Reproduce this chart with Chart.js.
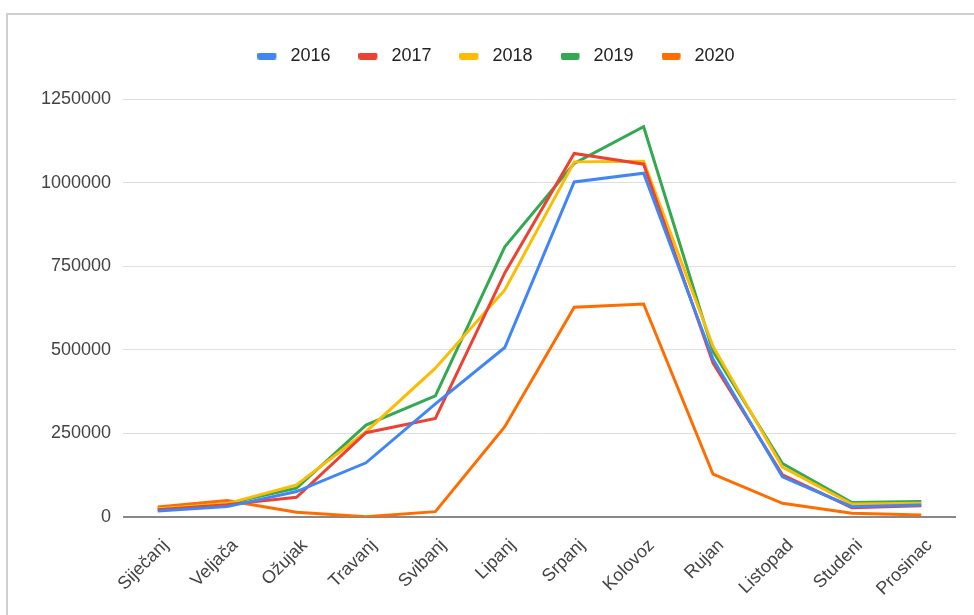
<!DOCTYPE html>
<html>
<head>
<meta charset="utf-8">
<script src="https://cdn.jsdelivr.net/npm/chart.js@4.4.1/dist/chart.umd.min.js"></script>
<style>
  html, body { margin: 0; padding: 0; background: #fff; }
  #wrap { position: relative; width: 974px; height: 615px; overflow: hidden; }
  #frame { position: absolute; left: 6px; top: 13px; width: 974px; height: 700px;
           border-top: 2px solid #cfcfcf; border-left: 2px solid #cfcfcf; box-sizing: border-box; pointer-events: none; }
  canvas { position: absolute; left: 0; top: 0; }
</style>
</head>
<body>
<div id="wrap">
  <canvas id="c" width="974" height="615"></canvas>
  <div id="frame"></div>
</div>
<script>
const months = ["Siječanj", "Veljača", "Ožujak", "Travanj", "Svibanj", "Lipanj", "Srpanj", "Kolovoz", "Rujan", "Listopad", "Studeni", "Prosinac"];
const yearLabels = ["2016", "2017", "2018", "2019", "2020"];
const v2016 = [18000, 31000, 76000, 162000, 338000, 507000, 1002000, 1028000, 472000, 120000, 31000, 36000];
const v2017 = [22000, 37000, 59000, 252000, 295000, 730000, 1087000, 1055000, 460000, 126000, 28000, 34000];
const v2018 = [25000, 40000, 96000, 255000, 445000, 679000, 1062000, 1064000, 510000, 149000, 39000, 41000];
const v2019 = [25000, 40000, 86000, 275000, 362000, 808000, 1057000, 1167000, 495000, 160000, 43000, 46000];
const v2020 = [30000, 49000, 14000, 1000, 16000, 270000, 627000, 637000, 128000, 41000, 11000, 6000];
const yTicks = [0, 250000, 500000, 750000, 1000000, 1250000];
const colors = ["#4285F4", "#EA4335", "#FBBC04", "#34A853", "#FF6D01"];
const series = [v2016, v2017, v2018, v2019, v2020];

const font = { family: "'Liberation Sans', Arial, sans-serif", size: 18 };

// legend swatch images: a 19x7 rounded bar with transparent space on its right
function swatch(color) {
  const c = document.createElement('canvas');
  c.width = 24; c.height = 7;
  const g = c.getContext('2d');
  g.fillStyle = color;
  g.beginPath();
  if (g.roundRect) g.roundRect(0, 0, 19, 7, 2); else g.rect(0, 0, 19, 7);
  g.fill();
  return c;
}

const legendSpace = {
  id: 'legendSpace',
  beforeInit(chart) {
    const orig = chart.legend.fit;
    chart.legend.fit = function () { orig.call(this); this.height += 24; };
  }
};

new Chart(document.getElementById('c'), {
  type: 'line',
  data: {
    labels: months,
    datasets: series.map((d, i) => ({
      label: yearLabels[i],
      data: d,
      borderColor: colors[i],
      backgroundColor: colors[i],
      borderWidth: 3,
      pointRadius: 0,
      pointStyle: swatch(colors[i]),
      tension: 0,
      fill: false
    }))
  },
  plugins: [legendSpace],
  options: {
    responsive: false,
    animation: false,
    devicePixelRatio: 1,
    layout: { padding: { top: 19, right: 18, bottom: 0, left: 36 } },
    plugins: {
      tooltip: { enabled: false },
      legend: {
        position: 'top',
        align: 'center',
        labels: {
          font: font,
          color: '#222',
          usePointStyle: true,
          pointStyleWidth: 24,
          boxHeight: 7,
          padding: 28
        }
      }
    },
    scales: {
      x: {
        offset: true,
        grid: { display: false, drawTicks: false },
        border: { display: false },
        ticks: {
          font: font,
          color: '#444',
          minRotation: 45,
          maxRotation: 45,
          autoSkip: false,
          padding: 18,
          labelOffset: 8
        },
        afterFit: (s) => { s.height = 98; }
      },
      y: {
        min: 0,
        max: 1250000,
        afterBuildTicks: (s) => { s.ticks = yTicks.map(v => ({ value: v })); },
        grid: {
          drawTicks: false,
          color: (ctx) => ctx.tick && ctx.tick.value === 0 ? '#888888' : '#dedede',
          lineWidth: (ctx) => ctx.tick && ctx.tick.value === 0 ? 2 : 1
        },
        border: { display: false },
        ticks: {
          font: font,
          color: '#444',
          padding: 12,
          callback: (v) => String(v)
        },
        afterFit: (s) => { s.width = 87; }
      }
    }
  }
});
</script>
</body>
</html>
